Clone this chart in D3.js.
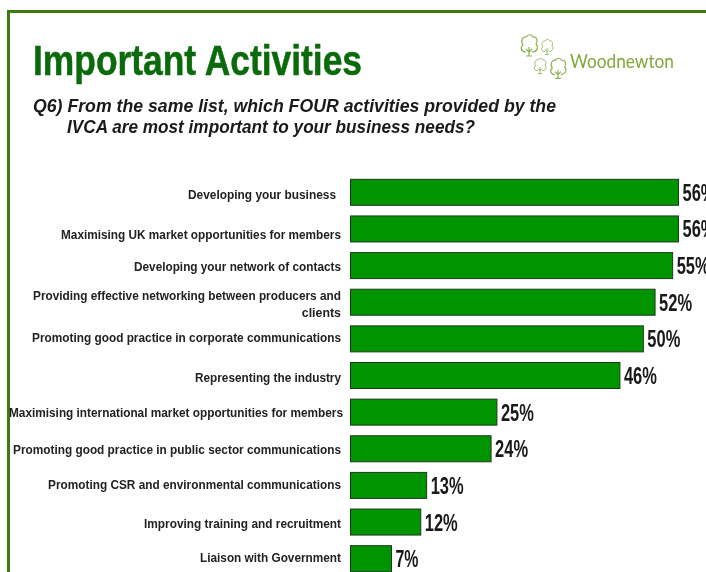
<!DOCTYPE html>
<html><head><meta charset="utf-8">
<script src="https://cdnjs.cloudflare.com/ajax/libs/d3/7.8.5/d3.min.js"></script>
<style>html,body{margin:0;padding:0;background:#fff;overflow:hidden}svg{display:block;filter:blur(0.35px)}text{font-family:"Liberation Sans",Arial,sans-serif}</style>
</head><body><svg id="c" width="706" height="572"></svg>
<script>
const categories = ["Developing your business","Maximising UK market opportunities for members","Developing your network of contacts","Providing effective networking between producers and|clients","Promoting good practice in corporate communications","Representing the industry","Maximising international market opportunities for members","Promoting good practice in public sector communications","Promoting CSR and environmental communications","Improving training and recruitment","Liaison with Government"];
const values = [56,56,55,52,50,46,25,24,13,12,7];
const labelNudge = [2,6,1,0,-1,2,0,1,-1,1,-1];
const labelEnd = [336,341,341,341,341,341,343,341,341,341,341];
const labelWidth = [148,280,207,308,309,146,334,328,293,197,141];

const svg = d3.select("#c");
svg.append("path").attr("d","M8.5 572V11.5H706").attr("fill","none").attr("stroke","#3d7a12").attr("stroke-width",3);

svg.append("text").text("Important Activities").attr("x",33).attr("y",75)
  .attr("font-size",42).attr("font-weight",700).attr("fill","#0b6a0b").attr("stroke","#0b6a0b").attr("stroke-width",0.5)
  .attr("textLength",329).attr("lengthAdjust","spacingAndGlyphs");
svg.append("text").text("Q6) From the same list, which FOUR activities provided by the").attr("x",33).attr("y",112)
  .attr("font-size",18).attr("font-weight",700).attr("font-style","italic").attr("fill","#1a1a1a")
  .attr("textLength",523).attr("lengthAdjust","spacingAndGlyphs");
svg.append("text").text("IVCA are most important to your business needs?").attr("x",67).attr("y",133)
  .attr("font-size",18).attr("font-weight",700).attr("font-style","italic").attr("fill","#1a1a1a")
  .attr("textLength",408).attr("lengthAdjust","spacingAndGlyphs");

// logo
const logo = svg.append("g").attr("fill","none").attr("stroke","#8fb050").attr("stroke-width",1.2);
[[529,44,1],[547,46,.7],[540,65,.72],[558,67,.95]].forEach(([x,y,s])=>{
  const t = logo.append("g").attr("transform",`translate(${x},${y}) scale(${s})`);
  t.append("path").attr("d","M-3 8C-8 8-9 3-6 1-9-3-6-8-3-7-1-10 3-10 4-7 8-8 9-3 7 0 10 3 8 8 3 8");
  t.append("path").attr("d","M0 3V12M-3 12H3M-3 5L0 8M3 5L0 8");
});
svg.append("text").text("Woodnewton").attr("x",570).attr("y",68).attr("font-size",19)
  .attr("fill","#7fa83c").style("font-family","Lato,'Open Sans',sans-serif")
  .attr("textLength",104).attr("lengthAdjust","spacingAndGlyphs");

const x = d3.scaleLinear().domain([0,56]).range([350.5,678.5]);
const y = d3.scaleBand().domain(categories).range([174,577]).paddingInner(0.29).paddingOuter(0.145);

svg.append("g").selectAll("rect").data(categories).join("rect")
  .attr("x",x(0)).attr("y",d=>y(d)).attr("width",(d,i)=>x(values[i])-x(0)).attr("height",y.bandwidth())
  .attr("fill","#009400").attr("stroke","#1d3a1d").attr("stroke-width",1);

svg.append("g").selectAll("text").data(categories).join("text")
  .text((d,i)=>values[i]+"%")
  .attr("x",(d,i)=>x(values[i])+4).attr("y",d=>y(d)+y.bandwidth()/2+8.5)
  .attr("font-size",24).attr("font-weight",700).attr("fill","#1a1a1a")
  .attr("textLength",(d,i)=>String(values[i]).length===1?23:33).attr("lengthAdjust","spacingAndGlyphs");

const lab = svg.append("g");
categories.forEach((d,i)=>{
  const parts = d.split("|");
  const cy = y(d)+y.bandwidth()/2+labelNudge[i];
  parts.forEach((p,j)=>{
    const t = lab.append("text").text(p).attr("text-anchor","end").attr("x",labelEnd[i])
      .attr("y",parts.length>1 ? (j===0?300:317) : cy+4.5)
      .attr("font-size",12.4).attr("font-weight",700).attr("fill","#222");
    if(j===0){t.attr("textLength",labelWidth[i]).attr("lengthAdjust","spacingAndGlyphs");}
  });
});
</script></body></html>
